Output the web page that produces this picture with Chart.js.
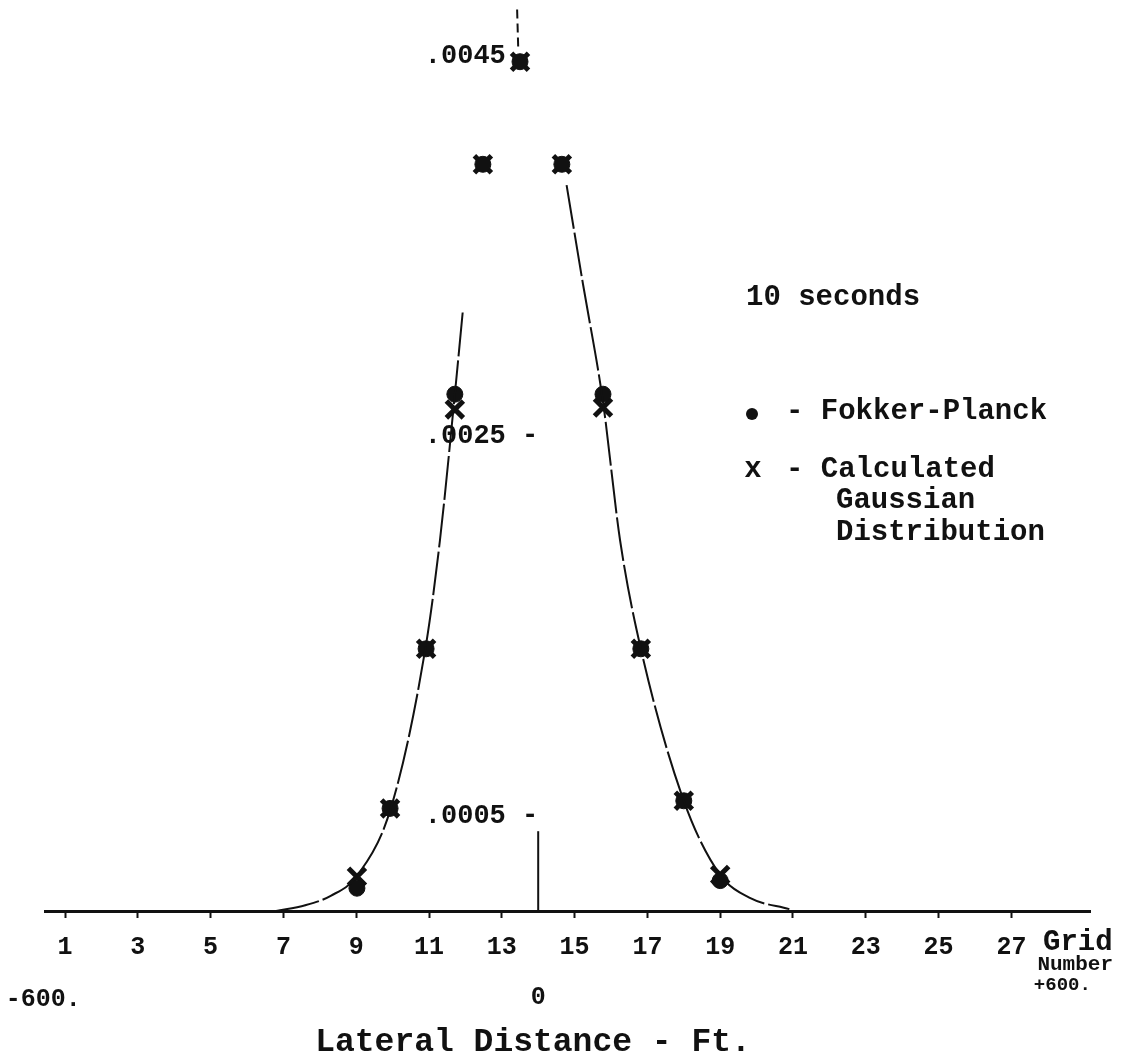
<!DOCTYPE html>
<html>
<head>
<meta charset="utf-8">
<script src="https://cdn.jsdelivr.net/npm/chart.js@4.4.1/dist/chart.umd.min.js"></script>
<style>
  html, body { margin: 0; padding: 0; background: #fff; }
  canvas { display: block; }
</style>
</head>
<body>
<canvas id="distribucion" width="1122" height="1063"></canvas>
<script>
// grid number of each plotted point (as placed on the drawing)
var gridPuntos = [9.02, 9.93, 10.92, 11.71, 12.48, 13.5, 14.65, 15.78, 16.82, 18.0, 19.0];
// x - calculated gaussian distribution
var gaussiana = [0.00018, 0.00054, 0.00138, 0.00264, 0.00393, 0.00447, 0.00393, 0.00265, 0.00138, 0.00058, 0.00019];
// dot - Fokker-Planck
var fokkerPlanck = [0.00012, 0.00054, 0.00138, 0.00272, 0.00393, 0.00447, 0.00393, 0.00272, 0.00138, 0.00058, 0.00016];

// hand drawn curve, left and right branch
var curvaIzqX = [6.8, 7.6, 8.3, 9.0, 9.95, 10.9, 11.3, 11.7, 11.93];
var curvaIzqY = [0.0, 0.00003, 0.00008, 0.00018, 0.00054, 0.00138, 0.00195, 0.0027, 0.00316];
var curvaDerX = [14.78, 15.23, 15.78, 16.25, 16.82, 18.0, 19.0, 19.8, 20.9];
var curvaDerY = [0.00382, 0.0033, 0.00268, 0.00195, 0.00138, 0.00058, 0.00019, 0.00007, 0.00001];

// short dashed mark above the peak and the stub of the vertical axis
var marcaPicoX = [13.45, 13.42];
var marcaPicoY = [0.00455, 0.00475];
var ejeVertX = [14, 14];
var ejeVertY = [0, 0.00042];

var ticksX = [1, 3, 5, 7, 9, 11, 13, 15, 17, 19, 21, 23, 25, 27];
var ticksY = [0.0005, 0.0025, 0.0045];
var etiquetasY = ['.0005 -', '.0025 -', '.0045  '];

// lateral distance (ft) under the grid numbers
var distancia = ['-600.', '0', '+600.'];
var distanciaGrid = [0.4, 14, 28.4];

var fuente = "'Liberation Mono', 'DejaVu Sans Mono', monospace";
var negro = '#111';

function puntos(xs, ys) {
    return xs.map(function (x, i) { return { x: x, y: ys[i] }; });
}

var textos = {
    id: 'textos',
    afterDraw: function (chart) {
        var c = chart.ctx;
        var ex = chart.scales.x;
        c.save();
        c.fillStyle = negro;
        c.textBaseline = 'middle';

        // lateral distance labels
        c.font = 'bold 25px ' + fuente;
        c.textAlign = 'center';
        c.fillText(distancia[0], ex.getPixelForValue(distanciaGrid[0]), 1000);
        c.fillText(distancia[1], ex.getPixelForValue(distanciaGrid[1]), 998);
        c.font = 'bold 19px ' + fuente;
        c.fillText(distancia[2], ex.getPixelForValue(distanciaGrid[2]), 985);

        // "Grid Number" next to the last tick
        c.textAlign = 'left';
        c.font = 'bold 29px ' + fuente;
        c.fillText('Grid', 1043, 943);
        c.textAlign = 'right';
        c.font = 'bold 21px ' + fuente;
        c.fillText('Number', 1113, 965);

        // axis title
        c.textAlign = 'center';
        c.font = 'bold 33px ' + fuente;
        c.fillText('Lateral Distance - Ft.', 533, 1043);

        // key
        c.textAlign = 'left';
        c.font = 'bold 29px ' + fuente;
        c.fillText('10 seconds', 746, 298);
        c.beginPath();
        c.arc(752, 414, 6, 0, Math.PI * 2);
        c.fill();
        c.fillText('- Fokker-Planck', 786, 412);
        c.textAlign = 'center';
        c.fillText('x', 753, 470);
        c.textAlign = 'left';
        c.fillText('- Calculated', 786, 470);
        c.fillText('Gaussian', 836, 501);
        c.fillText('Distribution', 836, 533);
        c.restore();
    }
};

var ctx = document.getElementById('distribucion');

var myChart = new Chart(ctx, {
    type: 'scatter',
    data: {
        datasets: [{
            label: 'curva izq',
            type: 'line',
            data: puntos(curvaIzqX, curvaIzqY),
            borderColor: negro,
            borderWidth: 2,
            borderDash: [44, 4],
            pointRadius: 0,
            cubicInterpolationMode: 'monotone',
            clip: false
        }, {
            label: 'curva der',
            type: 'line',
            data: puntos(curvaDerX, curvaDerY),
            borderColor: negro,
            borderWidth: 2,
            borderDash: [44, 4],
            pointRadius: 0,
            cubicInterpolationMode: 'monotone',
            clip: false
        }, {
            label: 'marca pico',
            type: 'line',
            data: puntos(marcaPicoX, marcaPicoY),
            borderColor: negro,
            borderWidth: 2,
            borderDash: [9, 5],
            pointRadius: 0,
            clip: false
        }, {
            label: 'eje',
            type: 'line',
            data: puntos(ejeVertX, ejeVertY),
            borderColor: negro,
            borderWidth: 2,
            pointRadius: 0,
            clip: false
        }, {
            label: 'Fokker-Planck',
            data: puntos(gridPuntos, fokkerPlanck),
            pointStyle: 'circle',
            pointRadius: 8,
            backgroundColor: negro,
            borderColor: negro,
            borderWidth: 1,
            clip: false
        }, {
            label: 'Calculated Gaussian Distribution',
            data: puntos(gridPuntos, gaussiana),
            pointStyle: 'crossRot',
            pointRadius: 12,
            borderColor: negro,
            borderWidth: 5,
            clip: false
        }]
    },
    options: {
        responsive: false,
        animation: false,
        layout: {
            padding: { top: 20, left: 45, right: 32, bottom: 0 }
        },
        scales: {
            x: {
                type: 'linear',
                position: 'bottom',
                min: 0.45,
                max: 29.16,
                afterBuildTicks: function (eje) {
                    eje.ticks = ticksX.map(function (v) { return { value: v }; });
                },
                afterFit: function (eje) {
                    eje.height = 152;
                    eje.paddingLeft = 0;
                    eje.paddingRight = 0;
                },
                ticks: {
                    color: negro,
                    padding: 15,
                    font: { family: fuente, size: 25, weight: 'bold' },
                    callback: function (v) { return String(v); }
                },
                grid: {
                    drawOnChartArea: false,
                    drawTicks: true,
                    tickLength: 7,
                    tickWidth: 2,
                    color: negro
                },
                border: { color: negro, width: 3 }
            },
            y: {
                type: 'linear',
                position: { x: 14 },
                min: 0,
                max: 0.0046895,
                afterBuildTicks: function (eje) {
                    eje.ticks = ticksY.map(function (v) { return { value: v }; });
                },
                afterFit: function (eje) {
                    eje.paddingTop = 0;
                    eje.paddingBottom = 0;
                },
                ticks: {
                    color: negro,
                    padding: 14,
                    font: { family: fuente, size: 27, weight: 'bold' },
                    callback: function (v, i) { return etiquetasY[i]; }
                },
                grid: { display: false },
                border: { display: false }
            }
        },
        plugins: {
            legend: { display: false },
            tooltip: { enabled: false }
        }
    },
    plugins: [textos]
});
</script>
</body>
</html>
